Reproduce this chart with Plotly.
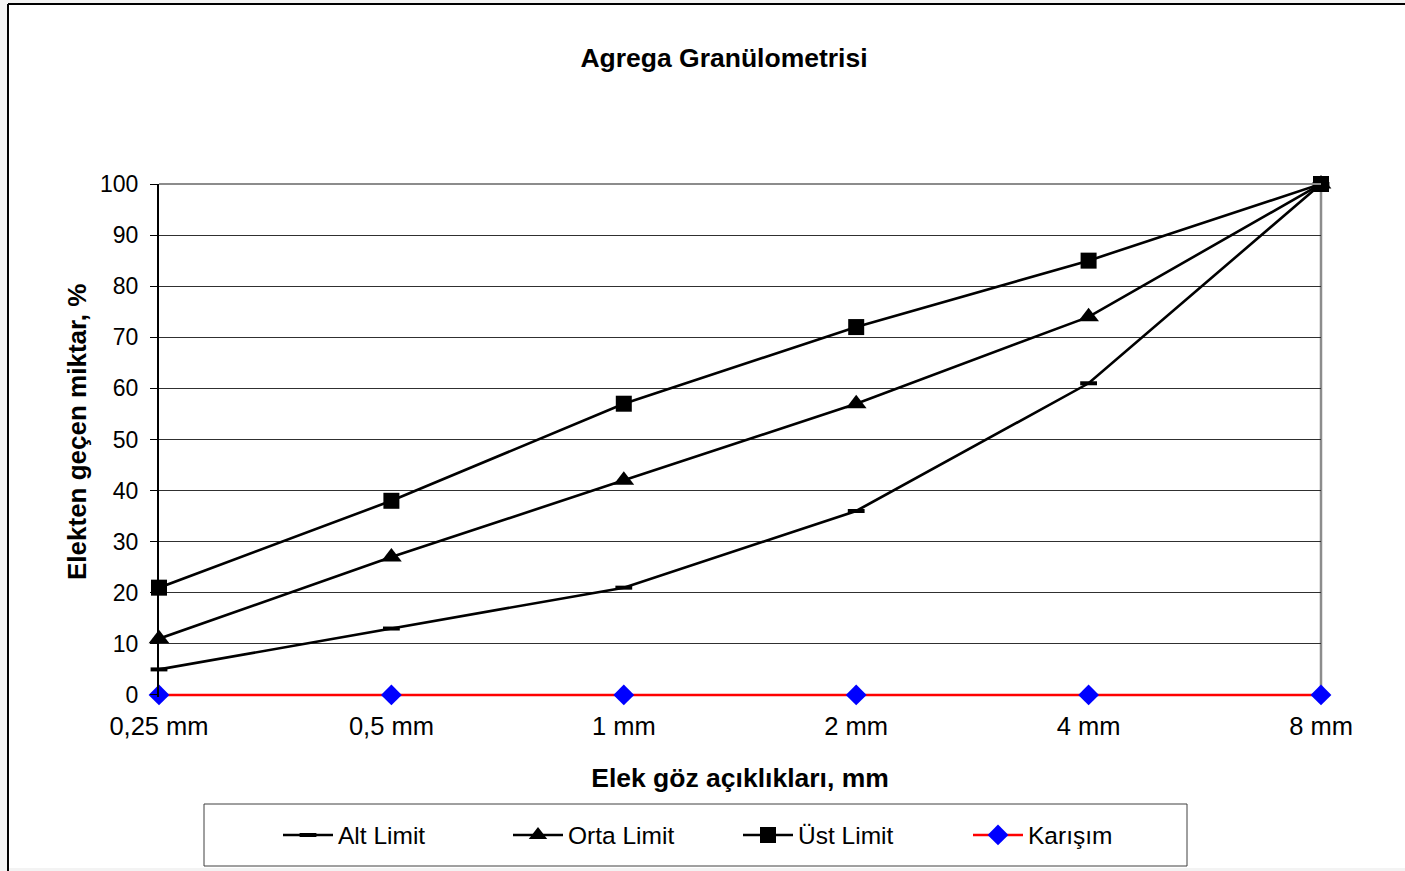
import plotly.graph_objects as go

categories = ["0,25 mm", "0,5 mm", "1 mm", "2 mm", "4 mm", "8 mm"]
alt_limit = [5, 13, 21, 36, 61, 100]
orta_limit = [11, 27, 42, 57, 74, 100]
ust_limit = [21, 38, 57, 72, 85, 100]
karisim = [0, 0, 0, 0, 0, 0]

W, H = 1405, 871
L, R, T, B = 159, 1321, 184, 697
PW, PH = R - L, B - T


def px(x):
    return (x - L) / PW


def py(y):
    return (B - y) / PH


xs = list(range(len(categories)))
FONT = "Liberation Sans, Arial, sans-serif"

fig = go.Figure()
fig.add_trace(go.Scatter(x=xs, y=alt_limit, name="Alt Limit", mode="lines+markers",
                         line=dict(color="black", width=2.6), cliponaxis=False,
                         marker=dict(symbol="line-ew", size=12, color="black",
                                     line=dict(color="black", width=4))))
fig.add_trace(go.Scatter(x=xs, y=orta_limit, name="Orta Limit", mode="lines+markers",
                         line=dict(color="black", width=2.6), cliponaxis=False,
                         marker=dict(symbol="triangle-up", size=18, color="black")))
fig.add_trace(go.Scatter(x=xs, y=ust_limit, name="Üst Limit", mode="lines+markers",
                         line=dict(color="black", width=2.6), cliponaxis=False,
                         marker=dict(symbol="square", size=16, color="black")))
fig.add_trace(go.Scatter(x=xs, y=karisim, name="Karışım", mode="lines+markers",
                         line=dict(color="#ff0000", width=2.6), cliponaxis=False,
                         marker=dict(symbol="diamond", size=16, color="#0000ff")))

shapes = [
    # outer chart area (white) and its frame
    dict(type="rect", xref="paper", yref="paper", layer="below",
         x0=px(8), x1=px(1412), y0=py(868), y1=py(4),
         fillcolor="white", line=dict(width=0)),
    dict(type="line", xref="paper", yref="paper", layer="below",
         x0=px(8), x1=px(8), y0=py(880), y1=py(4), line=dict(color="black", width=2)),
    dict(type="line", xref="paper", yref="paper", layer="below",
         x0=px(8), x1=px(1412), y0=py(4), y1=py(4), line=dict(color="black", width=2)),
    # plot area border (grey) top and right
    dict(type="line", xref="paper", yref="paper", layer="above",
         x0=0, x1=1, y0=1, y1=1, line=dict(color="#8c8c8c", width=2)),
    dict(type="line", xref="paper", yref="paper", layer="below",
         x0=1, x1=1, y0=py(695), y1=1, line=dict(color="#8c8c8c", width=2.5)),
    # legend box
    dict(type="rect", xref="paper", yref="paper", layer="below",
         x0=px(204), x1=px(1187), y0=py(866), y1=py(804),
         fillcolor="white", line=dict(color="#404040", width=1)),
]

annotations = [
    dict(text="<b>Elekten geçen miktar, %</b>", xref="paper", yref="paper",
         x=px(77), y=py(432), xanchor="center", yanchor="middle", textangle=-90,
         showarrow=False, font=dict(size=26, family=FONT, color="black")),
]

fig.update_layout(
    width=W, height=H,
    margin=dict(l=L, r=W - R, t=T, b=H - B, autoexpand=False),
    paper_bgcolor="#f3f3f3",
    plot_bgcolor="rgba(0,0,0,0)",
    font=dict(family=FONT, color="black", size=22),
    title=dict(text="<b>Agrega Granülometrisi</b>", xref="paper", x=px(724), xanchor="center",
               yref="container", y=1 - 58 / H, yanchor="middle",
               font=dict(size=26.5, family=FONT, color="black")),
    xaxis=dict(range=[0, 5], tickmode="array", tickvals=xs, ticktext=categories,
               showgrid=False, zeroline=False, showline=False, ticks="",
               ticklabelstandoff=11, automargin=False,
               tickfont=dict(size=25.5, family=FONT),
               title=dict(text="<b>Elek göz açıklıkları, mm</b>", standoff=29,
                          font=dict(size=26.5, family=FONT))),
    yaxis=dict(range=[-0.4, 100], tickmode="array", tickvals=list(range(0, 101, 10)),
               showgrid=True, gridcolor="#303030", gridwidth=1,
               zeroline=False, showline=True, linecolor="black", linewidth=2,
               ticks="outside", ticklen=7, tickcolor="black", tickwidth=1,
               ticklabelstandoff=7, automargin=False,
               tickfont=dict(size=23, family=FONT)),
    showlegend=True,
    legend=dict(orientation="h", x=px(278), xanchor="left", y=py(835), yanchor="middle",
                bgcolor="rgba(0,0,0,0)", borderwidth=0,
                entrywidth=165, entrywidthmode="pixels", itemwidth=50,
                font=dict(size=24.5, family=FONT)),
    shapes=shapes,
    annotations=annotations,
)

fig.write_html("out.html")
